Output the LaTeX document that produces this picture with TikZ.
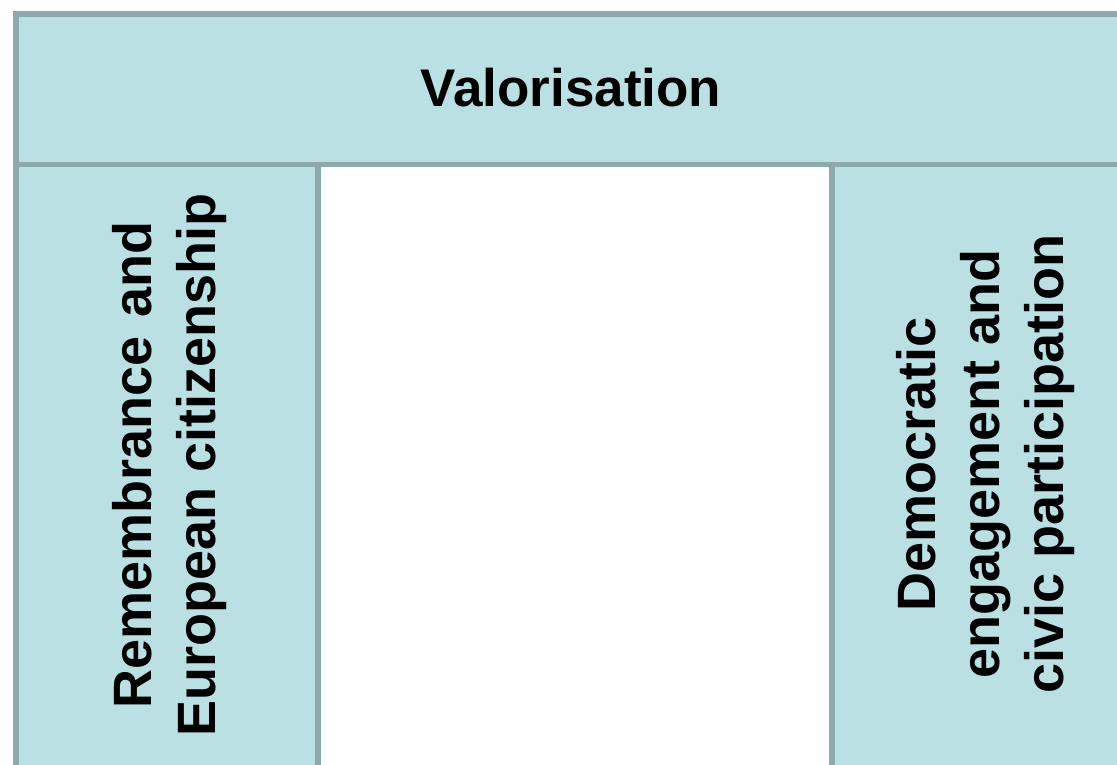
\documentclass[tikz,border=0pt]{standalone}
\usepackage{fontspec}
\setmainfont{Liberation Sans}
\usetikzlibrary{positioning}
\definecolor{panelfill}{HTML}{BBE0E3}
\definecolor{panelline}{HTML}{8CA9AC}
\tikzset{panel/.style={rectangle,draw=panelline,fill=panelfill,line width=5.5pt,inner sep=0pt,anchor=north west},
	coltext/.style={rotate=90,align=center,inner sep=0pt,font=\fontsize{54}{64}\selectfont\bfseries},
}

\begin{document}
\begin{tikzpicture}[x=1pt,y=-1pt]
		\useasboundingbox (0,0) rectangle (1117,765);
		\node[panel,minimum width=1112pt,minimum height=150.5pt] (valor) at (13,11.5) {};
		\node[panel,minimum width=302pt,minimum height=604pt] (remcol) at (13,162) {};
		\node[panel,minimum width=301pt,minimum height=604pt] (demcol) at (829,162) {};
		
		\node[font=\fontsize{53}{64}\selectfont\bfseries] (valtext) at (571,88) {Valorisation};
		\node[coltext] (remtext) at (170,465) {Remembrance\hspace{0.35em}and\\European citizenship};
		\node[coltext] (demtext) at (986,464) {Democratic\\engagement and\\civic participation};
	\end{tikzpicture}
\end{document}
